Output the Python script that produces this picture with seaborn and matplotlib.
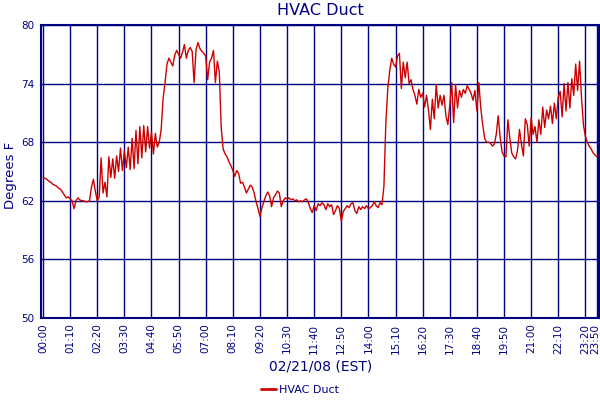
import matplotlib
matplotlib.use('Agg')
import matplotlib.pyplot as plt
import matplotlib.transforms as mtransforms
import pandas as pd
import seaborn as sns

# readings every 5 minutes, 00:00 .. 23:50
minutes = list(range(0, 1435, 5))
temps = [
    64.4, 64.3, 64.2, 64.0, 63.9, 63.7, 63.6, 63.5, 63.3, 63.2, 62.9, 62.6,
    62.3, 62.4, 62.2, 62.0, 61.2, 62.0, 62.3, 62.1, 62.0, 62.0, 61.9, 61.9,
    62.0, 63.4, 64.2, 63.0, 62.0, 62.4, 66.4, 62.8, 63.9, 62.4, 66.5, 64.4,
    66.3, 64.3, 66.6, 65.0, 67.4, 65.1, 67.1, 65.4, 67.5, 65.2, 68.4, 65.3,
    69.2, 65.8, 69.6, 66.4, 69.7, 67.0, 69.6, 67.4, 69.0, 66.8, 68.9, 67.5,
    68.0, 69.3, 72.5, 74.1, 76.0, 76.6, 76.2, 75.8, 76.9, 77.4, 77.0, 76.6,
    77.2, 78.0, 76.6, 77.4, 77.7, 77.3, 74.1, 77.5, 78.2, 77.6, 77.3, 77.1,
    76.8, 74.4, 76.2, 76.6, 77.4, 74.1, 76.3, 75.2, 69.5, 67.3, 66.8, 66.5,
    66.0, 65.6, 65.1, 64.5, 65.1, 64.8, 63.8, 63.9, 63.4, 62.8, 63.2, 63.6,
    63.4, 62.8, 61.9, 61.2, 60.4, 61.3, 61.9, 62.5, 62.9, 62.5, 61.4, 62.3,
    62.6, 63.0, 62.8, 61.4, 62.0, 62.3, 62.2, 62.3, 62.1, 62.2, 62.0, 62.1,
    61.9, 62.0, 61.9, 62.1, 62.2, 61.8, 61.2, 60.8, 61.5, 61.0, 61.7, 61.5,
    61.8, 61.6, 61.1, 61.7, 61.4, 61.6, 60.6, 61.0, 61.5, 61.2, 59.9, 60.9,
    61.2, 61.5, 61.3, 61.7, 61.8, 61.0, 60.7, 61.4, 61.1, 61.4, 61.2, 61.5,
    61.2, 61.3, 61.5, 61.9, 61.5, 61.3, 61.8, 61.6, 63.5, 70.0, 73.5, 75.3,
    76.6, 76.0, 75.7, 76.8, 77.1, 73.5, 76.2, 74.6, 76.2, 74.0, 74.4, 73.4,
    72.8, 71.9, 73.4, 72.6, 73.0, 71.6, 72.8, 71.3, 69.3, 72.4, 70.4, 73.9,
    71.5, 72.8, 71.8, 72.8, 70.7, 69.8, 71.8, 74.1, 70.0, 73.9, 71.5, 73.3,
    72.6, 73.4, 73.0, 73.8, 73.4, 73.0, 72.3, 73.3, 71.2, 74.1, 71.5, 69.8,
    68.4, 68.0, 68.0, 67.9, 67.6, 67.8, 68.8, 70.7, 68.5, 67.0, 66.6, 66.5,
    70.3, 68.4, 66.9, 66.5, 66.3, 67.2, 69.3, 67.8, 66.6, 70.4, 69.8, 67.6,
    70.5, 68.8, 69.6, 68.0, 70.3, 68.8, 71.6, 69.5, 71.3, 70.4, 71.7, 69.9,
    72.0, 70.4, 72.6, 73.2, 70.6, 74.0, 71.2, 74.1, 71.5, 74.5, 72.8, 76.0,
    73.3, 76.3, 72.6, 69.8, 68.6, 68.0, 67.6, 67.3, 66.9, 66.7, 66.5,
]

tick_minutes = list(range(0, 1401, 70)) + [1430]
tick_labels = ['00:00', '01:10', '02:20', '03:30', '04:40', '05:50', '07:00',
               '08:10', '09:20', '10:30', '11:40', '12:50', '14:00', '15:10',
               '16:20', '17:30', '18:40', '19:50', '21:00', '22:10', '23:20',
               '23:50']
y_ticks = [50, 56, 62, 68, 74, 80]

df = pd.DataFrame({'minute': minutes, 'temp': temps})

navy = '#000080'
sns.set_style('white')
plt.rcParams['font.family'] = ['DejaVu Sans']

fig = plt.figure(figsize=(6, 4), dpi=100)
ax = fig.add_axes([41 / 600, 1 - 318 / 400, 558 / 600, 293 / 400])

sns.lineplot(data=df, x='minute', y='temp', ax=ax, color='#cc0000',
             linewidth=1, label='HVAC Duct')

ax.set_xlim(-5.2, 1435.2)
ax.set_ylim(50, 80)
ax.set_xticks(tick_minutes)
ax.set_xticklabels(tick_labels, rotation=90)
ax.set_yticks(y_ticks)
ax.set_yticklabels([str(v) for v in y_ticks])
ax.tick_params(axis='both', length=0, labelsize=7.5, labelcolor=navy)
ax.tick_params(axis='x', pad=4)
ax.tick_params(axis='y', pad=5)
ax.grid(True, color=navy, linewidth=1)
ax.set_axisbelow(True)
for s in ax.spines.values():
    s.set_color(navy)
    s.set_linewidth(1.5)

# keep the last tick label inside the figure
last = ax.get_xticklabels()[-1]
last.set_transform(last.get_transform() +
                   mtransforms.ScaledTranslation(-2 / 100, 0, fig.dpi_scale_trans))

ax.set_xlabel('')
ax.set_ylabel('')
ax.set_title('HVAC Duct', color=navy, fontsize=11.5, pad=7)
fig.text(0.017, 0.5625, 'Degrees F', rotation=90, color=navy, fontsize=9.5,
         ha='center', va='center')
fig.text(0.535, 0.0825, '02/21/08 (EST)', color=navy, fontsize=10,
         ha='center', va='center')

ax.get_legend().remove()
handles, labels = ax.get_legend_handles_labels()
leg = fig.legend(handles, labels, loc='center', bbox_to_anchor=(0.5, 0.025),
                 frameon=False, fontsize=8, handlelength=1.4,
                 handletextpad=0.3, borderpad=0)
for t in leg.get_texts():
    t.set_color(navy)
for h in leg.get_lines():
    h.set_linewidth(2)

fig.savefig('out.png', dpi=100)
